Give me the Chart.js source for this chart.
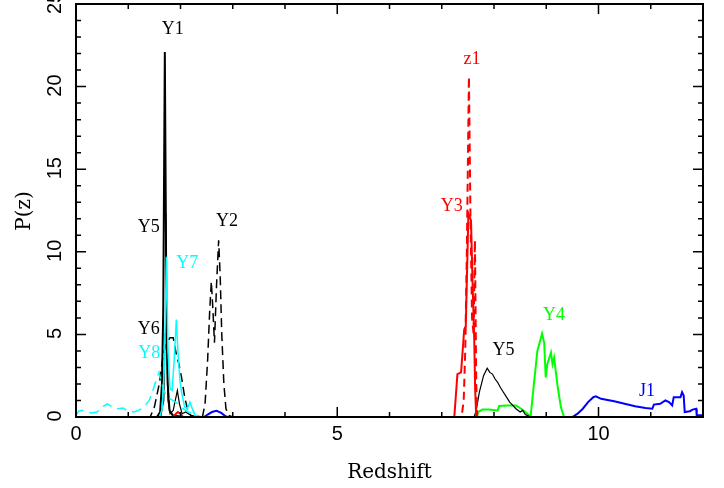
<!DOCTYPE html>
<html lang="en">
<head>
  <meta charset="UTF-8">
  <title>P(z) vs Redshift</title>
  <script src="https://cdn.jsdelivr.net/npm/chart.js"></script>
  <style>
    html, body { margin: 0; padding: 0; background: #fff; }
    #wrap { width: 724px; height: 488px; }
  </style>
</head>
<body>
  <div id="wrap"><canvas id="pz"></canvas></div>

  <script>
    // axis ticks
    const xTicks = [0, 5, 10];
    const yTicks = [0, 5, 10, 15, 20, 25];

    // curves as [redshift, P(z)] pairs
    const Y1 = [[0,0],[1.55,0],[1.61,0.3],[1.645,2],[1.67,6.5],[1.70,22.1],[1.73,6.5],[1.755,2],[1.79,0.4],[1.85,0.1],[2.05,0],[12,0]];
    const Y5 = [[0,0],[1.62,0],[1.68,1],[1.705,5],[1.72,12.3],[1.735,5],[1.76,1],[1.8,0.2],[1.86,0.4],[1.9,1.0],[1.94,1.6],[1.98,0.8],[2.03,0.2],[2.1,0.3],[2.2,0.1],[2.3,0],
                [7.62,0],[7.66,0.4],[7.72,1.5],[7.8,2.5],[7.87,2.95],[7.92,2.7],[7.97,2.6],[8.02,2.3],[8.07,2.1],[8.12,1.8],[8.18,1.5],[8.24,1.2],[8.3,0.9],[8.36,0.7],[8.42,0.5],[8.5,0.3],[8.55,0.4],[8.6,0.15],[8.7,0],[12,0]];
    const Y2 = [[0,0],[2.42,0],[2.47,0.8],[2.52,3.5],[2.56,6.5],[2.59,8.2],[2.62,6.5],[2.65,4.5],[2.69,8.0],[2.73,10.7],[2.76,8.5],[2.79,5],[2.83,2],[2.87,0.5],[2.92,0.1],[3.0,0],[12,0]];
    const Y6 = [[0,0],[1.42,0],[1.5,0.6],[1.6,2.1],[1.66,3.6],[1.72,4.4],[1.8,4.8],[1.86,4.8],[1.92,3.8],[1.97,3.2],[2.02,2.4],[2.08,1.2],[2.14,0.4],[2.2,0.1],[2.3,0],[12,0]];
    const Y7 = [[0,0],[1.6,0],[1.65,0.5],[1.69,3],[1.73,9.7],[1.76,4],[1.8,1.7],[1.84,1.6],[1.88,3.5],[1.92,5.9],[1.95,4],[1.99,2.2],[2.02,1.5],[2.08,0.6],[2.13,0.5],[2.18,0.9],[2.24,0.4],[2.28,0.1],[2.35,0],[12,0]];
    const Y8 = [[0,0.1],[0.05,0.35],[0.12,0.4],[0.2,0.3],[0.3,0.25],[0.4,0.3],[0.5,0.6],[0.6,0.8],[0.7,0.6],[0.8,0.5],[0.9,0.55],[1.0,0.35],[1.1,0.3],[1.2,0.4],[1.3,0.6],[1.4,1.0],[1.48,1.7],[1.55,2.4],[1.59,2.7],[1.63,2.2],[1.68,1.6],[1.75,1.2],[1.85,1.0],[1.95,0.8],[2.05,0.5],[2.15,0.3],[2.25,0.2],[2.4,0],[12,0]];
    const Y3 = [[0,0],[1.85,0],[1.9,0.15],[1.95,0.3],[2.0,0.2],[2.05,0],[7.24,0],[7.3,2.6],[7.37,2.7],[7.43,5.3],[7.46,5.5],[7.51,12.3],[7.56,11.9],[7.59,8.1],[7.62,5],[7.64,1.6],[7.66,0],[12,0]];
    const Z1 = [[0,0],[7.38,0],[7.42,1],[7.45,4],[7.48,10],[7.52,20.6],[7.55,12],[7.58,6],[7.61,5],[7.635,10.7],[7.66,2],[7.68,0],[12,0]];
    const Y4 = [[0,0],[7.66,0],[7.7,0.3],[7.78,0.46],[7.9,0.45],[8.07,0.4],[8.1,0.67],[8.25,0.7],[8.42,0.7],[8.52,0.5],[8.64,0.2],[8.7,0],[8.77,2.2],[8.83,4],[8.92,5.05],[8.96,4.5],[8.99,2.4],[9.02,3.2],[9.09,3.9],[9.12,3.2],[9.15,3.6],[9.22,1.8],[9.28,0.6],[9.34,0],[12,0]];
    const J1 = [[0,0],[2.45,0],[2.52,0.15],[2.6,0.3],[2.69,0.37],[2.78,0.25],[2.86,0.05],[2.9,0],[9.5,0],[9.6,0.2],[9.7,0.5],[9.8,0.9],[9.9,1.2],[9.95,1.25],[10.05,1.1],[10.3,0.95],[10.5,0.8],[10.7,0.65],[10.9,0.55],[11.03,0.5],[11.06,0.75],[11.18,0.8],[11.28,1.0],[11.35,0.9],[11.41,0.7],[11.44,1.2],[11.57,1.2],[11.6,1.5],[11.63,1.3],[11.65,0.3],[11.75,0.35],[11.8,0.45],[11.87,0.5],[11.88,0.1],[12,0.1]];

    // curve labels: text, redshift, P(z), colour
    const labelText = ['Y1', 'Y5', 'Y2', 'Y7', 'Y6', 'Y8', 'z1', 'Y3', 'Y5', 'Y4', 'J1'];
    const labelZ    = [1.85, 1.39, 2.89, 2.13, 1.39, 1.40, 7.58, 7.19, 8.18, 9.15, 10.93];
    const labelP    = [23.5, 11.5, 11.86, 9.28, 5.32, 3.86, 21.65, 12.77, 4.04, 6.13, 1.56];
    const labelColor = ['#000', '#000', '#000', '#00ffff', '#000', '#00ffff', '#ff0000', '#ff0000', '#000', '#00ff00', '#0000ff'];

    function pts(arr) {
      return arr.map(p => ({ x: p[0], y: p[1] }));
    }

    function line(data, color, width, dash) {
      return {
        data: pts(data),
        borderColor: color,
        borderWidth: width,
        borderDash: dash || [],
        showLine: true,
        pointRadius: 0,
        tension: 0,
        fill: false
      };
    }

    // frame, inward ticks on all sides, tick labels, titles and curve labels
    const framePlugin = {
      id: 'frame',
      afterDatasetsDraw(chart) {
        const { ctx, chartArea: a, scales: { x, y } } = chart;
        ctx.save();
        ctx.strokeStyle = '#000';
        ctx.lineWidth = 1.5;
        ctx.beginPath();
        for (let v = 0; v <= 12; v++) {
          const px = x.getPixelForValue(v);
          const len = xTicks.includes(v) ? 10 : 5;
          ctx.moveTo(px, a.bottom); ctx.lineTo(px, a.bottom - len);
          ctx.moveTo(px, a.top); ctx.lineTo(px, a.top + len);
        }
        for (let v = 0; v <= 25; v++) {
          const py = y.getPixelForValue(v);
          const len = yTicks.includes(v) ? 10 : 5;
          ctx.moveTo(a.left, py); ctx.lineTo(a.left + len, py);
          ctx.moveTo(a.right, py); ctx.lineTo(a.right - len, py);
        }
        ctx.stroke();
        ctx.lineWidth = 2;
        ctx.strokeRect(a.left, a.top, a.right - a.left, a.bottom - a.top);

        ctx.fillStyle = '#000';
        ctx.font = '20px "Liberation Sans", Arial, sans-serif';
        ctx.textAlign = 'center';
        ctx.textBaseline = 'middle';
        xTicks.forEach(v => ctx.fillText(String(v), x.getPixelForValue(v), a.bottom + 17));
        yTicks.forEach(v => {
          ctx.save();
          ctx.translate(a.left - 21, y.getPixelForValue(v) - 1);
          ctx.rotate(-Math.PI / 2);
          ctx.fillText(String(v), 0, 0);
          ctx.restore();
        });

        ctx.font = '20px "DejaVu Serif", serif';
        ctx.fillText('Redshift', (a.left + a.right) / 2, a.bottom + 56);
        ctx.save();
        ctx.translate(a.left - 51, 211);
        ctx.rotate(-Math.PI / 2);
        ctx.fillText('P(z)', 0, 0);
        ctx.restore();

        ctx.font = '18px "Liberation Serif", "Times New Roman", serif';
        labelText.forEach((t, i) => {
          ctx.fillStyle = labelColor[i];
          ctx.fillText(t, x.getPixelForValue(labelZ[i]), y.getPixelForValue(labelP[i]));
        });
        ctx.restore();
      }
    };

    new Chart(document.getElementById('pz'), {
      type: 'scatter',
      data: {
        datasets: [
          line(Y8, '#00ffff', 1.5, [10, 6]),
          line(Y7, '#00ffff', 1.5),
          line(Z1, '#ff0000', 2, [8, 5]),
          line(Y3, '#ff0000', 2),
          line(Y5, '#000000', 1.2),
          line(Y1, '#000000', 2),
          line(Y6, '#000000', 1.5, [9, 5]),
          line(Y2, '#000000', 1.5, [9, 5]),
          line(Y4, '#00ff00', 2),
          line(J1, '#0000ff', 2)
        ]
      },
      options: {
        responsive: true,
        maintainAspectRatio: false,
        animation: false,
        layout: { padding: { left: 68, right: 21, top: 4, bottom: 63 } },
        plugins: { legend: { display: false }, tooltip: { enabled: false } },
        scales: {
          x: {
            type: 'linear', min: 0, max: 12,
            grid: { display: false }, border: { display: false },
            ticks: { display: false }
          },
          y: {
            type: 'linear', min: 0, max: 25,
            grid: { display: false }, border: { display: false },
            ticks: { display: false }
          }
        }
      },
      plugins: [framePlugin]
    });
  </script>
</body>
</html>
